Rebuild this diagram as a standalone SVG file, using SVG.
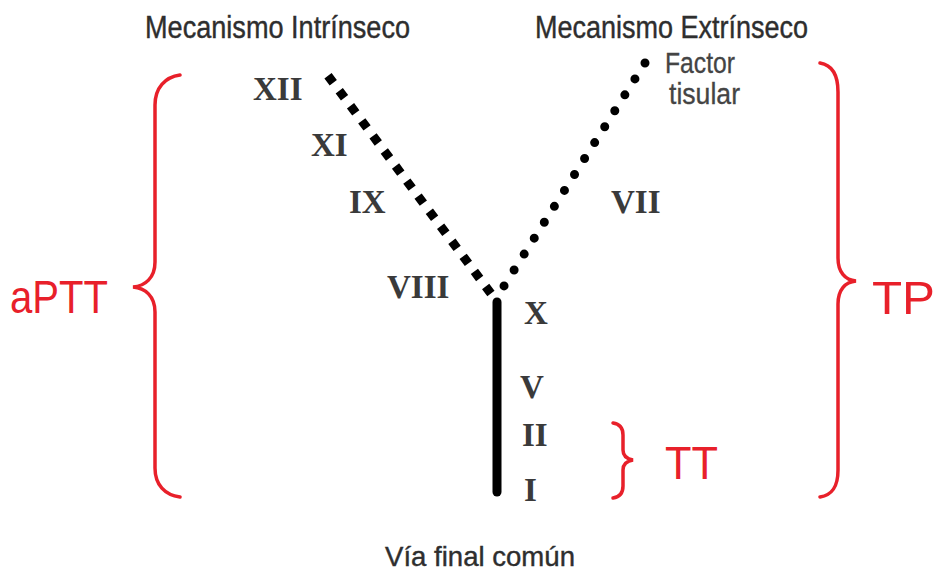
<svg xmlns="http://www.w3.org/2000/svg" width="942" height="576" viewBox="0 0 942 576">
<style>
.hd{font-family:"Liberation Sans",Arial,sans-serif;fill:#2e2e2e;stroke:#2e2e2e;stroke-width:0.4;font-size:31px}
.sm{font-family:"Liberation Sans",Arial,sans-serif;fill:#444;stroke:#444;stroke-width:0.3;font-size:29px}
.rn{font-family:"Liberation Serif","Times New Roman",serif;font-weight:bold;fill:#3a3a3a;font-size:33px}
.rd{font-family:"Liberation Sans",Arial,sans-serif;fill:#e8202a;font-size:47px}
.br{fill:none;stroke:#e8202a;stroke-width:3.5;stroke-linecap:round}
</style>
<rect width="942" height="576" fill="#fff"/>
<g id="connectors">
<line x1="328" y1="75.7" x2="491" y2="293.6" stroke="#000" stroke-width="9" stroke-dasharray="8.8 10"/>
<line x1="645" y1="63" x2="504" y2="286" stroke="#000" stroke-width="9" stroke-linecap="round" stroke-dasharray="0 18.84"/>
<line x1="497" y1="302" x2="497" y2="492" stroke="#000" stroke-width="9" stroke-linecap="round"/>
</g>
<g id="headers">
<text class="hd" x="145" y="38" textLength="265" lengthAdjust="spacingAndGlyphs">Mecanismo Intrínseco</text>
<text class="hd" x="535" y="38" textLength="273" lengthAdjust="spacingAndGlyphs">Mecanismo Extrínseco</text>
<text class="sm" x="665" y="73" textLength="70" lengthAdjust="spacingAndGlyphs">Factor</text>
<text class="sm" x="669" y="104" textLength="71" lengthAdjust="spacingAndGlyphs">tisular</text>
<text class="hd" x="480" y="566" text-anchor="middle" style="font-size:28px" textLength="190" lengthAdjust="spacingAndGlyphs">Vía final común</text>
</g>
<g id="factors">
<text class="rn" x="253" y="100">XII</text>
<text class="rn" x="311" y="156">XI</text>
<text class="rn" x="349" y="213">IX</text>
<text class="rn" x="387" y="298">VIII</text>
<text class="rn" x="611" y="213">VII</text>
<text class="rn" x="524" y="324">X</text>
<text class="rn" x="520" y="398">V</text>
<text class="rn" x="522" y="446">II</text>
<text class="rn" x="524" y="501">I</text>
</g>
<g id="aPTT">
<path class="br" d="M180,75 C165,77 155,88 155,105 L155,262 C155,278 145,286 133,287 C145,288 155,296 155,312 L155,468 C155,485 165,495 180,497"/>
<text class="rd" x="10" y="313" textLength="98" lengthAdjust="spacingAndGlyphs">aPTT</text>
</g>
<g id="TP">
<path class="br" d="M820,63 C832,65 838,75 838,92 L838,258 C838,272 845,280 856,281 C845,282 838,290 838,304 L838,470 C838,487 832,495 820,497"/>
<text class="rd" x="872" y="314" textLength="63" lengthAdjust="spacingAndGlyphs">TP</text>
</g>
<g id="TT">
<path class="br" d="M613,423 C620,424 623,428 623,435 L623,450 C623,456 627,459 633,460 C627,461 623,464 623,470 L623,486 C623,493 620,497 613,498"/>
<text class="rd" x="665" y="479" textLength="53" lengthAdjust="spacingAndGlyphs">TT</text>
</g>
</svg>
